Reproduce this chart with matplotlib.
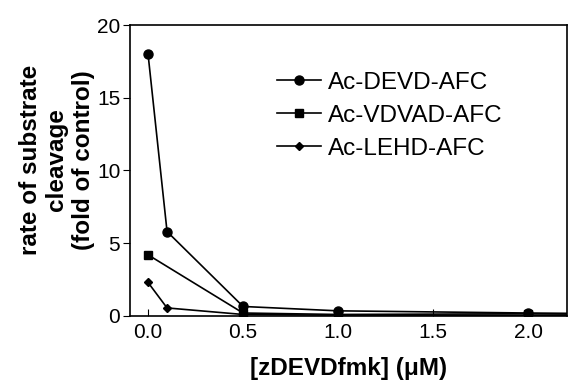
import matplotlib
matplotlib.use("Agg")
import matplotlib.pyplot as plt

plt.rcParams['font.family'] = ['Liberation Sans', 'DejaVu Sans']

# concentracion de zDEVDfmk (uM)
conc_devd = [0.0, 0.1, 0.5, 1.0, 2.0, 2.5]
devd = [18.0, 5.8, 0.65, 0.35, 0.2, 0.15]

conc_vdvad = [0.0, 0.5, 1.0, 2.0, 2.5]
vdvad = [4.2, 0.2, 0.1, 0.15, 0.1]

conc_lehd = [0.0, 0.1, 0.5, 1.0, 2.0, 2.5]
lehd = [2.3, 0.55, 0.1, 0.05, 0.05, 0.05]

fig = plt.figure(figsize=(5.84, 3.91), dpi=100)
ax = fig.add_axes([0.2226, 0.192, 0.7484, 0.744])

ax.plot(conc_devd, devd, '-o', color='black', lw=1.2, ms=6.5, label='Ac-DEVD-AFC')
ax.plot(conc_vdvad, vdvad, '-s', color='black', lw=1.2, ms=6, label='Ac-VDVAD-AFC')
ax.plot(conc_lehd, lehd, '-D', color='black', lw=1.2, ms=4, label='Ac-LEHD-AFC')

ax.set_xlim(-0.095, 2.205)
ax.set_ylim(0, 20)
ax.set_xticks([0.0, 0.5, 1.0, 1.5, 2.0])
ax.set_xticklabels(['0.0', '0.5', '1.0', '1.5', '2.0'])
ax.set_yticks([0, 5, 10, 15, 20])
ax.tick_params(axis='x', direction='in', length=5, labelsize=15, pad=5)
ax.tick_params(axis='y', direction='out', length=5, labelsize=15, pad=2)
for s in ax.spines.values():
    s.set_linewidth(1.2)

ax.set_xlabel('[zDEVDfmk] (\u03bcM)', fontsize=17.5, fontweight='bold', labelpad=11)
ax.set_ylabel('rate of substrate\ncleavage\n(fold of control)', fontsize=17.5,
              fontweight='bold', linespacing=1.2)
ax.yaxis.set_label_coords(-0.08, 0.536)

ax.legend(loc='upper left', bbox_to_anchor=(0.286, 0.914), frameon=False, fontsize=17.5,
          handlelength=1.8, handletextpad=0.3, labelspacing=0.45)

fig.savefig('out.png', dpi=100)
